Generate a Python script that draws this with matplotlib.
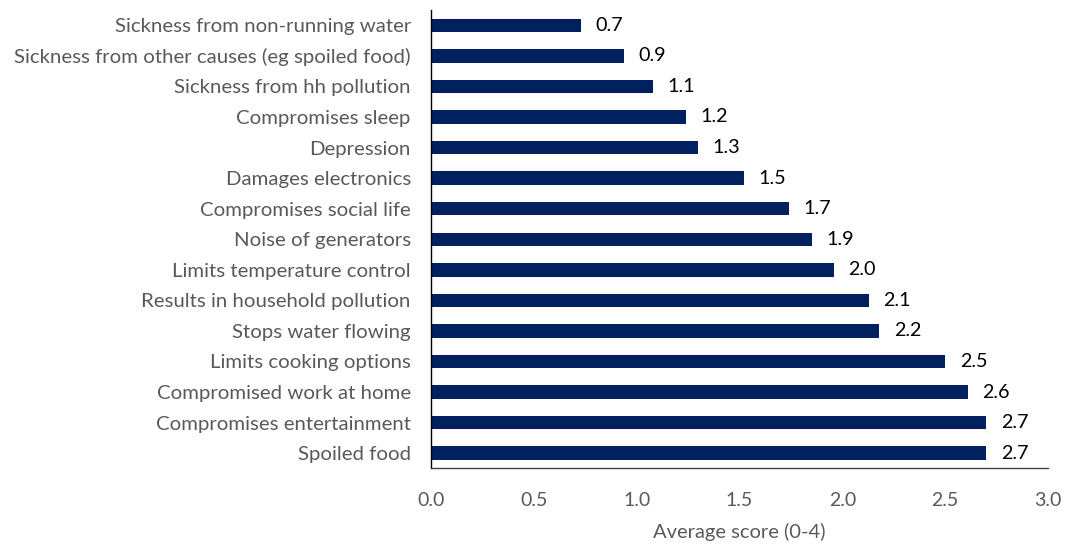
import matplotlib
matplotlib.use("Agg")
import matplotlib.pyplot as plt

categories = [
    "Sickness from non-running water",
    "Sickness from other causes (eg spoiled food)",
    "Sickness from hh pollution",
    "Compromises sleep",
    "Depression",
    "Damages electronics",
    "Compromises social life",
    "Noise of generators",
    "Limits temperature control",
    "Results in household pollution",
    "Stops water flowing",
    "Limits cooking options",
    "Compromised work at home",
    "Compromises entertainment",
    "Spoiled food",
]
scores = [0.73, 0.94, 1.08, 1.24, 1.30, 1.52, 1.74, 1.85, 1.96, 2.13, 2.18, 2.50, 2.61, 2.70, 2.70]
xticks = [0.0, 0.5, 1.0, 1.5, 2.0, 2.5, 3.0]

plt.rcParams["font.family"] = ["Lato", "DejaVu Sans"]

fig = plt.figure(figsize=(10.65, 5.45), dpi=100)
ax = fig.add_axes([0.4047, 0.1404, 0.5794, 0.8413])

y = list(range(len(categories)))
ax.barh(y, scores, height=0.44, color="#002060")
for yi, v in zip(y, scores):
    ax.text(v + 0.07, yi, f"{v:.1f}", va="center", ha="left", fontsize=14.2, color="black")

ax.set_ylim(len(categories) - 0.5, -0.5)
ax.set_xlim(0, 3.0)
ax.set_yticks(y)
ax.set_yticklabels(categories, fontsize=14.7, color="#595959")
ax.set_xticks(xticks)
ax.set_xticklabels([f"{t:.1f}" for t in xticks], fontsize=14, color="#595959")
ax.tick_params(axis="both", length=0)
ax.tick_params(axis="x", pad=17)
ax.tick_params(axis="y", pad=14.5)
ax.set_xlabel("Average score (0-4)", fontsize=14.5, color="#595959", labelpad=10)

for s in ["top", "right"]:
    ax.spines[s].set_visible(False)
ax.spines["left"].set_color("black")
ax.spines["bottom"].set_color("#404040")
ax.spines["left"].set_linewidth(1.0)
ax.spines["bottom"].set_linewidth(1.0)

fig.savefig("out.png", dpi=100)
